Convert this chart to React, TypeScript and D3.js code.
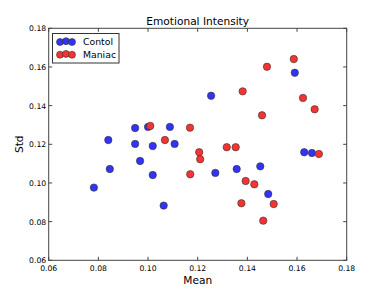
import React from "react";
import * as d3 from "d3";

const controlMean = [0.1254, 0.1591, 0.084, 0.0948, 0.1, 0.1088, 0.0948, 0.1019, 0.1107, 0.0968, 0.0846, 0.0782, 0.1019, 0.1063, 0.1271, 0.1357, 0.1452, 0.1484, 0.1629, 0.166];
const controlStd = [0.1451, 0.157, 0.1222, 0.1284, 0.129, 0.129, 0.1202, 0.1191, 0.1202, 0.1114, 0.1072, 0.0976, 0.1041, 0.0883, 0.1052, 0.1072, 0.1086, 0.0943, 0.1159, 0.1155];
const maniacMean = [0.1009, 0.1068, 0.1169, 0.1381, 0.1479, 0.1587, 0.1624, 0.1671, 0.1459, 0.1317, 0.1353, 0.1206, 0.121, 0.117, 0.1393, 0.1428, 0.1376, 0.1506, 0.1464, 0.1688];
const maniacStd = [0.1295, 0.1222, 0.1286, 0.1474, 0.1601, 0.1641, 0.144, 0.1381, 0.135, 0.1185, 0.1185, 0.1159, 0.1123, 0.1045, 0.101, 0.0993, 0.0895, 0.0891, 0.0805, 0.115];
const xTicks = [0.06, 0.08, 0.1, 0.12, 0.14, 0.16, 0.18];
const yTicks = [0.06, 0.08, 0.1, 0.12, 0.14, 0.16, 0.18];
const seriesNames = ["Contol", "Maniac"];

const W = 385, H = 290;
const L = 48.7, R = 346.7, T = 28.3, B = 260.3;
const font = "DejaVu Sans, sans-serif";
const blue = "#3333f5";
const red = "#f53333";

export default function App() {
  const x = d3.scaleLinear().domain([0.06, 0.18]).range([L, R]);
  const y = d3.scaleLinear().domain([0.06, 0.18]).range([B, T]);
  const r = 3.7;
  const series = [
    { name: seriesNames[0], xs: controlMean, ys: controlStd, color: blue },
    { name: seriesNames[1], xs: maniacMean, ys: maniacStd, color: red },
  ];
  const fmt = d3.format(".2f");
  return (
    <svg width={W} height={H} style={{ position: "absolute", left: 0, top: 0 }}>
      <rect width={W} height={H} fill="#fff" />
      <text x={(L + R) / 2} y={25} textAnchor="middle" fontFamily={font} fontSize={10.6} fill="#000">
        Emotional Intensity
      </text>
      {series.map((s) =>
        s.xs.map((v, i) => (
          <circle key={s.name + i} cx={x(v)} cy={y(s.ys[i])} r={r} fill={s.color} stroke="#333" strokeWidth={0.6} />
        ))
      )}
      <rect x={L} y={T} width={R - L} height={B - T} fill="none" stroke="#444" strokeWidth={1} />
      {xTicks.map((t) => (
        <g key={"x" + t}>
          <line x1={x(t)} x2={x(t)} y1={B} y2={B - 3.5} stroke="#444" />
          <line x1={x(t)} x2={x(t)} y1={T} y2={T + 3.5} stroke="#444" />
          <text x={x(t)} y={271} textAnchor="middle" fontFamily={font} fontSize={7.7} fill="#000">
            {fmt(t)}
          </text>
        </g>
      ))}
      {yTicks.map((t) => (
        <g key={"y" + t}>
          <line x1={L} x2={L + 3.5} y1={y(t)} y2={y(t)} stroke="#444" />
          <line x1={R} x2={R - 3.5} y1={y(t)} y2={y(t)} stroke="#444" />
          <text x={L - 2.5} y={y(t) + 3} textAnchor="end" fontFamily={font} fontSize={7.7} fill="#000">
            {fmt(t)}
          </text>
        </g>
      ))}
      <text x={(L + R) / 2} y={284} textAnchor="middle" fontFamily={font} fontSize={10.6} fill="#000">
        Mean
      </text>
      <text transform={`translate(23,${(T + B) / 2}) rotate(-90)`} textAnchor="middle" fontFamily={font} fontSize={10.6} fill="#000">
        Std
      </text>
      <rect x={52.5} y={33.5} width={66.5} height={29.5} fill="#fff" stroke="#333" strokeWidth={1} />
      {series.map((s, k) => (
        <g key={"leg" + k}>
          {[0, 1, 2].map((j) => (
            <circle key={j} cx={60 + j * 6} cy={42 + k * 12.7 - (j === 1 ? 0.8 : 0)} r={3.5} fill={s.color} stroke="#333" strokeWidth={0.6} />
          ))}
          <text x={83} y={45 + k * 12.7} fontFamily={font} fontSize={9.3} fill="#000">
            {s.name}
          </text>
        </g>
      ))}
    </svg>
  );
}
